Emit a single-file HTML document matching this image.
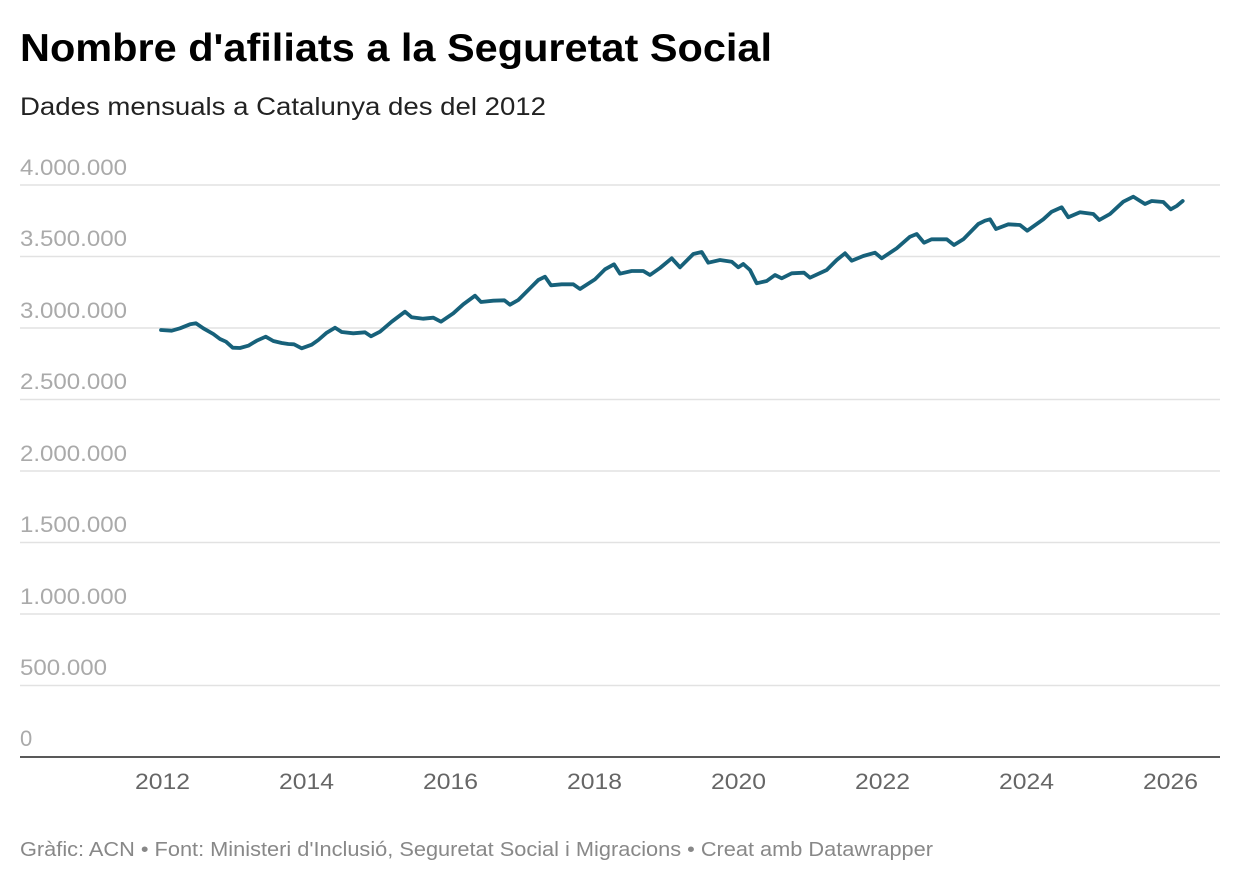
<!DOCTYPE html>
<html><head><meta charset="utf-8"><style>
body{margin:0;background:#fff;width:1240px;height:882px;overflow:hidden;font-family:"Liberation Sans",sans-serif}
</style></head><body>
<svg width="1240" height="882" xmlns="http://www.w3.org/2000/svg" font-family="Liberation Sans, sans-serif">
<text x="20" y="61" font-size="39" font-weight="bold" fill="#000" textLength="752" lengthAdjust="spacingAndGlyphs">Nombre d'afiliats a la Seguretat Social</text>
<text x="20" y="115" font-size="25" fill="#222" textLength="526" lengthAdjust="spacingAndGlyphs">Dades mensuals a Catalunya des del 2012</text>
<g stroke="#e2e2e2" stroke-width="1.5">
<line x1="20" x2="1220" y1="185" y2="185"/><line x1="20" x2="1220" y1="256.5" y2="256.5"/>
<line x1="20" x2="1220" y1="328" y2="328"/><line x1="20" x2="1220" y1="399.5" y2="399.5"/>
<line x1="20" x2="1220" y1="471" y2="471"/><line x1="20" x2="1220" y1="542.5" y2="542.5"/>
<line x1="20" x2="1220" y1="614" y2="614"/><line x1="20" x2="1220" y1="685.5" y2="685.5"/>
</g>
<line x1="20" x2="1220" y1="757" y2="757" stroke="#222" stroke-width="1.5"/>
<g font-size="22" fill="#aaa">
<text x="20" y="175" textLength="107" lengthAdjust="spacingAndGlyphs">4.000.000</text><text x="20" y="246" textLength="107" lengthAdjust="spacingAndGlyphs">3.500.000</text>
<text x="20" y="318" textLength="107" lengthAdjust="spacingAndGlyphs">3.000.000</text><text x="20" y="389" textLength="107" lengthAdjust="spacingAndGlyphs">2.500.000</text>
<text x="20" y="461" textLength="107" lengthAdjust="spacingAndGlyphs">2.000.000</text><text x="20" y="532" textLength="107" lengthAdjust="spacingAndGlyphs">1.500.000</text>
<text x="20" y="604" textLength="107" lengthAdjust="spacingAndGlyphs">1.000.000</text><text x="20" y="675" textLength="87" lengthAdjust="spacingAndGlyphs">500.000</text>
<text x="20" y="746">0</text>
</g>
<g font-size="22" fill="#666">
<text x="135" y="789" textLength="55" lengthAdjust="spacingAndGlyphs">2012</text><text x="279" y="789" textLength="55" lengthAdjust="spacingAndGlyphs">2014</text><text x="423" y="789" textLength="55" lengthAdjust="spacingAndGlyphs">2016</text>
<text x="567" y="789" textLength="55" lengthAdjust="spacingAndGlyphs">2018</text><text x="711" y="789" textLength="55" lengthAdjust="spacingAndGlyphs">2020</text><text x="855" y="789" textLength="55" lengthAdjust="spacingAndGlyphs">2022</text>
<text x="999" y="789" textLength="55" lengthAdjust="spacingAndGlyphs">2024</text><text x="1143" y="789" textLength="55" lengthAdjust="spacingAndGlyphs">2026</text>
</g>
<polyline fill="none" stroke="#17617a" stroke-width="3.8" stroke-linejoin="round" stroke-linecap="round" points="161,330 171.7,330.7 180,328.3 190,324.3 196,323.3 203.3,328.3 213.3,334 220,339 226,341.7 232.7,347.7 240,348 248.3,345.7 256.7,340.7 265.7,336.7 273.3,341 281.7,343 288.3,344 294,344.3 301.7,348.3 311.7,344.7 318.3,340 326.7,332.7 335,327.7 341.7,332 353.3,333.3 365,332.3 371,336.3 380,331.7 391.7,321.7 405,311.7 411.7,317.3 423.3,318.7 433.3,317.7 441,321.7 453.3,313.3 463.3,304.3 475,295.7 481,302 493.3,300.7 504.3,300.3 510,304.7 518.3,300 530,288.3 538.3,280 545,276.7 551,285.3 561.7,284.3 573.3,284.3 580,289 595,279.3 605,269.3 614,264.3 620,273.7 631.7,271 643.3,271 650,275 660,268 671.7,258.3 680,267.3 693.3,254 701.7,252 708.3,262.7 720,260 731.7,261.7 738.3,267.3 743.3,264 750,270 756.7,283.3 766.7,281 775,275 781.7,278.3 791.7,273.3 804,272.7 810,277.7 826.7,270 836.7,260 845,253.3 851.7,260.7 863.3,256 875,252.7 881.7,258.3 896.7,248.3 910,236.7 916.7,234 924,242.7 931.7,239.3 946.7,239.3 954,245 963.3,239.3 978.3,224 985,220.7 990,219.3 996,229 1008.3,224.3 1020,225 1027.3,230.7 1043.3,219.3 1051.7,211.7 1061.7,207.3 1068.3,217.3 1080,212.3 1093.3,214 1099.3,220 1110,214 1123.3,201.7 1133.3,196.7 1145,204 1151.7,201 1163.3,202 1170.7,209.3 1176.7,206 1182.7,201"/>
<text x="20" y="856" font-size="20" fill="#888" textLength="913" lengthAdjust="spacingAndGlyphs">Gràfic: ACN • Font: Ministeri d'Inclusió, Seguretat Social i Migracions • Creat amb Datawrapper</text>
</svg>
</body></html>
